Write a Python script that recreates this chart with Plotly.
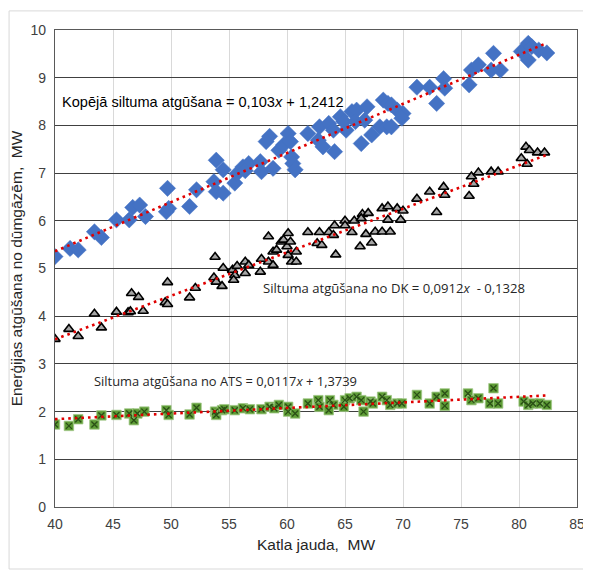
import plotly.graph_objects as go

# Kopējā siltuma atgūšana (blue diamonds)
total_x = [40.0, 41.3, 42.0, 43.4, 44.0, 45.3, 46.4, 46.7, 47.3, 47.8, 49.7, 49.6, 49.8, 51.6, 52.2,
           53.9, 53.7, 53.9, 54.5, 54.5, 55.5, 55.7, 56.2, 56.7, 56.4, 57.7, 57.8, 58.5, 58.2, 58.8,
           59.3, 59.7, 60.1, 60.3, 60.4, 60.5, 60.7, 61.8, 62.8, 62.7, 63.1, 63.6, 64.1, 64.0, 64.6,
           65.1, 64.9, 65.6, 66.0, 65.9, 66.4, 66.9, 66.7, 67.3, 68.0, 68.6, 69.0, 68.3, 68.7, 69.0,
           69.5, 70.0, 69.9, 71.2, 72.3, 72.9, 73.5, 73.6, 75.7, 75.9, 76.5, 77.8, 77.6, 78.4, 80.2,
           80.8, 81.1, 80.8, 81.7, 82.4]
total_y = [5.25, 5.42, 5.39, 5.77, 5.65, 6.02, 6.02, 6.28, 6.33, 6.09, 6.68, 6.19, 6.26, 6.30, 6.65,
           7.27, 6.82, 6.61, 6.58, 7.07, 6.79, 6.99, 7.13, 7.20, 7.05, 7.24, 7.03, 7.77, 7.66, 7.10,
           7.48, 7.59, 7.83, 7.66, 7.34, 7.20, 7.07, 7.83, 7.97, 7.69, 7.55, 8.04, 7.45, 7.90, 8.18,
           7.90, 8.08, 8.29, 8.32, 8.08, 7.62, 8.39, 8.11, 7.80, 7.97, 7.97, 7.97, 8.53, 8.46, 8.43,
           8.32, 8.25, 8.15, 8.80, 8.80, 8.46, 8.98, 8.78, 8.85, 9.16, 9.27, 9.51, 9.16, 9.16, 9.55,
           9.72, 9.65, 9.37, 9.58, 9.52]

# Siltuma atgūšana no DK (grey triangles)
dk_x = [40.0, 41.2, 42.0, 43.4, 44.0, 45.3, 46.3, 46.5, 46.6, 47.2, 47.6, 49.7, 49.5, 49.7, 51.6,
        52.1, 53.8, 53.7, 53.9, 54.4, 54.5, 55.3, 55.5, 55.4, 55.7, 56.4, 56.4, 56.7, 57.7, 57.8,
        58.4, 58.4, 58.8, 58.8, 59.1, 59.5, 59.7, 60.1, 60.0, 60.1, 60.3, 60.4, 60.8, 60.8, 61.8,
        62.8, 62.6, 63.0, 63.6, 64.0, 64.1, 64.2, 65.0, 65.0, 65.6, 65.8, 66.3, 66.5, 66.4, 66.8,
        67.0, 67.3, 67.6, 68.2, 68.9, 68.2, 68.7, 68.7, 69.5, 69.8, 70.0, 71.2, 72.3, 72.9, 73.5,
        73.6, 75.7, 75.9, 76.1, 76.5, 77.6, 78.2, 80.2, 80.6, 80.9, 80.7, 81.6, 82.2]
dk_y = [3.52, 3.73, 3.58, 4.05, 3.76, 4.09, 4.08, 4.10, 4.48, 4.40, 4.11, 4.71, 4.29, 4.25, 4.39,
        4.59, 5.24, 4.81, 4.72, 4.63, 5.01, 4.97, 4.86, 4.76, 5.05, 5.14, 4.90, 5.07, 4.93, 5.20,
        5.67, 5.14, 5.07, 5.35, 5.39, 5.56, 5.60, 5.74, 5.46, 5.28, 5.56, 5.14, 5.14, 5.35, 5.76,
        5.76, 5.53, 5.49, 5.76, 5.70, 5.90, 5.29, 6.00, 5.90, 5.76, 6.00, 5.46, 6.14, 6.05, 5.72,
        6.16, 5.54, 5.77, 5.77, 5.77, 6.26, 6.30, 6.02, 6.26, 6.02, 6.21, 6.46, 6.61, 6.18, 6.71,
        6.54, 6.52, 6.93, 6.77, 7.01, 7.03, 7.03, 7.31, 7.55, 7.48, 7.19, 7.43, 7.43]

# Siltuma atgūšana no ATS (green squares)
ats_x = [40.0, 41.2, 42.0, 43.4, 44.0, 45.3, 46.4, 46.8, 47.1, 47.7, 49.6, 49.8, 51.6, 52.2, 53.8,
         53.9, 54.4, 54.6, 55.5, 56.2, 56.8, 57.8, 58.5, 58.9, 59.3, 60.1, 60.1, 60.7, 61.8, 62.7,
         62.8, 63.7, 64.0, 63.6, 65.0, 65.4, 66.0, 64.9, 66.6, 66.4, 67.2, 67.4, 68.2, 68.6, 68.9,
         69.5, 69.9, 71.2, 72.3, 72.9, 73.6, 73.6, 75.6, 75.9, 76.5, 77.8, 77.5, 78.2, 80.4, 80.8,
         81.2, 81.8, 82.4]
ats_y = [1.73, 1.70, 1.84, 1.73, 1.92, 1.93, 1.96, 1.82, 1.96, 2.00, 2.03, 1.93, 1.94, 2.08, 2.00,
         1.93, 2.03, 2.05, 2.03, 2.07, 2.05, 2.05, 2.10, 2.07, 2.14, 2.10, 2.00, 1.96, 2.17, 2.24,
         2.10, 2.24, 2.14, 2.03, 2.24, 2.28, 2.31, 2.10, 2.00, 2.24, 2.21, 2.17, 2.31, 2.24, 2.14,
         2.17, 2.17, 2.35, 2.17, 2.31, 2.38, 2.12, 2.38, 2.24, 2.28, 2.49, 2.17, 2.17, 2.21, 2.14,
         2.17, 2.17, 2.14]

# trend line equations (slope, intercept) as shown on the chart
total_fit = [0.103, 1.2412]
dk_fit = [0.0912, -0.1328]
ats_fit = [0.0117, 1.3739]
fit_range = [40.0, 82.3]

x_ticks = [40, 45, 50, 55, 60, 65, 70, 75, 80, 85]
y_ticks = [0, 1, 2, 3, 4, 5, 6, 7, 8, 9, 10]

FONT = "Liberation Sans, Arial, sans-serif"
TREND = dict(color="#E00000", width=2.6, dash="2.6px,4px")

fig = go.Figure()
fig.add_trace(go.Scatter(x=total_x, y=total_y, mode="markers",
                         marker=dict(symbol="diamond", size=12.5, color="#4472C4",
                                     line=dict(color="#4472C4", width=0.5))))
fig.add_trace(go.Scatter(x=dk_x, y=dk_y, mode="markers",
                         marker=dict(symbol="triangle-up", size=9, color="#A5A5A5",
                                     line=dict(color="#000000", width=1.6))))
fig.add_trace(go.Scatter(x=ats_x, y=ats_y, mode="markers",
                         marker=dict(symbol="square", size=9.5, color="#5E9C36",
                                     line=dict(color="#A3C98A", width=0.8))))
fig.add_trace(go.Scatter(x=ats_x, y=ats_y, mode="markers",
                         marker=dict(symbol="x-thin", size=6, color="#2A4F16",
                                     line=dict(color="#2A4F16", width=1.3))))

for fit in (total_fit, dk_fit, ats_fit):
    fig.add_trace(go.Scatter(x=fit_range, y=[fit[0] * v + fit[1] for v in fit_range],
                             mode="lines", line=TREND, hoverinfo="skip"))

fig.add_annotation(x=40.4, y=8.49, xref="x", yref="y", xanchor="left", yanchor="middle",
                   text="Kopējā siltuma atgūšana = 0,103<i>x</i> + 1,2412", showarrow=False,
                   font=dict(family=FONT, size=14.6, color="#000000"))
fig.add_annotation(x=57.8, y=4.59, xref="x", yref="y", xanchor="left", yanchor="middle",
                   text="Siltuma atgūšana no DK = 0,0912<i>x</i>  - 0,1328", showarrow=False,
                   font=dict(family="Open Sans, sans-serif", size=13.1, color="#262626"))
fig.add_annotation(x=43.2, y=2.64, xref="x", yref="y", xanchor="left", yanchor="middle",
                   text="Siltuma atgūšana no ATS = 0,0117<i>x</i> + 1,3739", showarrow=False,
                   font=dict(family="Open Sans, sans-serif", size=12.9, color="#262626"))

# outer chart border
fig.add_shape(type="rect", xref="paper", yref="paper", x0=-0.088, x1=1.023, y0=-0.13, y1=1.04,
              line=dict(color="#D9D9D9", width=1), layer="below")

fig.update_xaxes(range=[40, 85], tickvals=x_ticks, ticktext=[str(v) for v in x_ticks],
                 showgrid=True, gridcolor="#D9D9D9", gridwidth=1,
                 showline=True, linecolor="#595959", linewidth=1.3, mirror=True,
                 ticks="", zeroline=False, ticklabelstandoff=4,
                 tickfont=dict(family=FONT, size=14, color="#404040"),
                 title=dict(text="Katla jauda,  MW", font=dict(family=FONT, size=15.5, color="#262626"),
                            standoff=8))
fig.update_yaxes(range=[0, 10], tickvals=y_ticks, ticktext=[str(v) for v in y_ticks],
                 showgrid=True, gridcolor="#404040", gridwidth=1,
                 showline=True, linecolor="#595959", linewidth=1.3, mirror=True,
                 ticks="", zeroline=False, ticklabelstandoff=5,
                 tickfont=dict(family=FONT, size=14, color="#404040"),
                 title=dict(text="Enerģijas atgūšana no dūmgāzēm,  MW",
                            font=dict(family=FONT, size=15.5, color="#262626"), standoff=4))

fig.update_layout(width=583, height=563, showlegend=False, autosize=False,
                  margin=dict(l=47, r=14, t=22, b=64, autoexpand=False),
                  plot_bgcolor="white", paper_bgcolor="white")

fig.write_html("out.html")
